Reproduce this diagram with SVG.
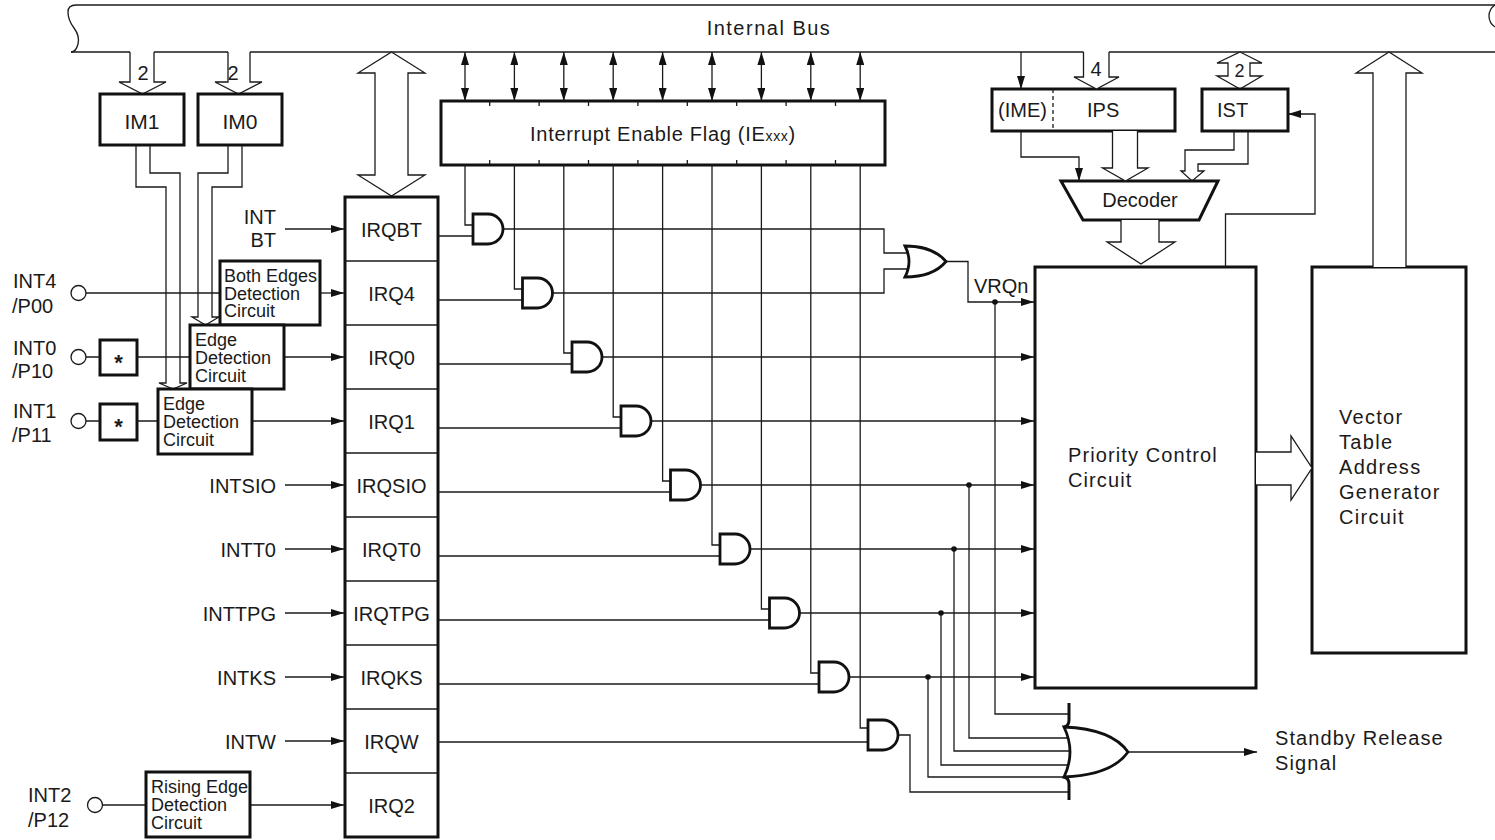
<svg xmlns="http://www.w3.org/2000/svg" width="1495" height="840" viewBox="0 0 1495 840">
<style>
.w{fill:none;stroke:#1a1a1a;stroke-width:1.3}
.b{fill:#fff;stroke:#111;stroke-width:3}
.bn{fill:none;stroke:#111;stroke-width:3}
.h{fill:#fff;stroke:#1a1a1a;stroke-width:1.3}
.hn{fill:none;stroke:#1a1a1a;stroke-width:1.3}
.g{fill:#fff;stroke:#111;stroke-width:2.8}
.t{font-family:"Liberation Sans",Arial,Helvetica,sans-serif;font-size:20px;fill:#1a1a1a}
.m{text-anchor:middle}
.e{text-anchor:end}
.s{font-size:18px}
.sp{letter-spacing:1.1px}
.d{fill:#111}
.ar{marker-end:url(#a)}
.ar2{marker-start:url(#a);marker-end:url(#a)}
</style>
<defs>
<marker id="a" viewBox="0 0 13 8" refX="13" refY="4" markerWidth="13" markerHeight="8" markerUnits="userSpaceOnUse" orient="auto-start-reverse"><path d="M0,0 L13,4 L0,8 Z" fill="#111"/></marker>
</defs>
<rect width="1495" height="840" fill="#fff"/>

<g id="internal-bus">
<path class="w" d="M76,5 H1495"/>
<path class="w" d="M76,5 Q68,5 68,12 Q68,20 74,28 Q80,36 78,44 Q76,52 71,52"/>
<path class="w" d="M1495,5 Q1489,9 1489,16 Q1489,23 1495,27"/>
<path class="w" d="M71,52 H130 M154,52 H228 M250,52 H1083.5 M1109,52 H1495"/>
<text class="t m" x="769" y="35" style="letter-spacing:1.5px">Internal Bus</text>
</g>

<g id="im1">
<polyline class="h" points="130,52 130,82 119,82 142.5,94 166,82 154,82 154,52"/>
<text class="t m" x="143" y="80">2</text>
<rect class="b" x="100" y="94" width="84" height="51"/>
<text class="t m" x="142" y="129" style="font-size:21px">IM1</text>
</g>
<g id="im0">
<polyline class="h" points="228,52 228,82 215,82 238.5,94 262,82 250,82 250,52"/>
<text class="t m" x="233" y="80">2</text>
<rect class="b" x="198" y="94" width="84" height="51"/>
<text class="t m" x="240" y="129" style="font-size:21px">IM0</text>
</g>

<g id="irq-register">
<polygon class="h" points="391.5,52 425,73 408,73 408,175 425,175 391.5,196 358,175 375,175 375,73 358,73"/>
<rect class="b" x="345" y="197" width="93" height="640"/>
<path class="w" d="M345,261 H438 M345,325 H438 M345,389 H438 M345,453 H438 M345,517 H438 M345,581 H438 M345,645 H438 M345,709 H438 M345,773 H438"/>
<text class="t m" x="391.5" y="237">IRQBT</text>
<text class="t m" x="391.5" y="301">IRQ4</text>
<text class="t m" x="391.5" y="365">IRQ0</text>
<text class="t m" x="391.5" y="429">IRQ1</text>
<text class="t m" x="391.5" y="493">IRQSIO</text>
<text class="t m" x="391.5" y="557">IRQT0</text>
<text class="t m" x="391.5" y="621">IRQTPG</text>
<text class="t m" x="391.5" y="685">IRQKS</text>
<text class="t m" x="391.5" y="749">IRQW</text>
<text class="t m" x="391.5" y="813">IRQ2</text>
</g>

<g id="ie-flag">
<rect class="b" x="441" y="101" width="444" height="64"/>
<path class="w" d="M489.7,101 v5 M539.1,101 v5 M588.5,101 v5 M637.9,101 v5 M687.3,101 v5 M736.7,101 v5 M786.1,101 v5 M835.5,101 v5 M489.7,165 v-5 M539.1,165 v-5 M588.5,165 v-5 M637.9,165 v-5 M687.3,165 v-5 M736.7,165 v-5 M786.1,165 v-5 M835.5,165 v-5"/>
<text class="t m" x="663" y="141" style="letter-spacing:0.7px">Interrupt Enable Flag (IE<tspan style="font-size:14px">xxx</tspan>)</text>
</g>

<g id="ips">
<rect class="b" x="992" y="89" width="183" height="42"/>
<path class="w" d="M1053,89 V131" stroke-dasharray="4,3"/>
<text class="t" x="998" y="117">(IME)</text>
<text class="t" x="1087" y="117">IPS</text>
<polyline class="h" points="1083.5,52 1083.5,77 1074,77 1096.5,89 1119,77 1109,77 1109,52"/>
<text class="t m" x="1096" y="76">4</text>
</g>

<g id="ist">
<polygon class="h" points="1240,52 1262,63 1250,63 1250,76 1262,76 1240,89 1217,76 1228,76 1228,63 1217,63"/>
<text class="t m" x="1239.5" y="77" style="font-size:18px">2</text>
<rect class="b" x="1202" y="89" width="86" height="42"/>
<text class="t" x="1217" y="117">IST</text>
</g>

<g id="decoder">
<polygon class="b" points="1061,181 1218,181 1199,220 1083,220"/>
<text class="t m" x="1140" y="207">Decoder</text>
</g>

<g id="priority-control">
<rect class="b" x="1035" y="267" width="221" height="421"/>
<text class="t sp" x="1068" y="462">Priority Control</text>
<text class="t sp" x="1068" y="487">Circuit</text>
</g>

<g id="vector-table">
<rect class="b" x="1312" y="267" width="154" height="386"/>
<text class="t" x="1339" y="424" style="letter-spacing:1.3px">Vector</text>
<text class="t" x="1339" y="449" style="letter-spacing:1.3px">Table</text>
<text class="t" x="1339" y="474" style="letter-spacing:1.3px">Address</text>
<text class="t" x="1339" y="499" style="letter-spacing:1.3px">Generator</text>
<text class="t" x="1339" y="524" style="letter-spacing:1.3px">Circuit</text>
</g>

<g id="int4-pin">
<circle class="w" cx="78.5" cy="293" r="7.5"/>
<text class="t" x="13" y="288">INT4</text>
<text class="t" x="12" y="313">/P00</text>
</g>
<g id="int0-pin">
<circle class="w" cx="78.5" cy="357" r="7.5"/>
<text class="t" x="13" y="355">INT0</text>
<text class="t" x="12" y="378">/P10</text>
<rect class="b" x="100" y="340" width="37" height="35"/>
<text class="t m" x="118.5" y="370" style="font-size:22px;font-weight:bold">*</text>
</g>
<g id="int1-pin">
<circle class="w" cx="78.5" cy="421" r="7.5"/>
<text class="t" x="13" y="418">INT1</text>
<text class="t" x="12" y="442">/P11</text>
<rect class="b" x="100" y="404" width="37" height="36"/>
<text class="t m" x="118.5" y="434" style="font-size:22px;font-weight:bold">*</text>
</g>
<g id="int2-pin">
<circle class="w" cx="95" cy="805" r="7.5"/>
<text class="t" x="28" y="802">INT2</text>
<text class="t" x="28" y="827">/P12</text>
</g>

<g id="connectors">
<!-- IM arrows to edge detectors -->
<path class="hn" d="M136,145 V187 H166 V383 H159 L173,389 L187,383 H180 V173 H150 V145"/>
<path class="hn" d="M228,145 V173 H198 V317 H192 L205.5,325 L219,317 H212 V187 H242 V145"/>
<!-- pin lines -->
<path class="w" d="M86,293 H220"/>
<path class="w" d="M86,357 H100 M137,357 H190"/>
<path class="w" d="M86,421 H100 M137,421 H158"/>
<path class="w" d="M102.5,805 H146"/>
<!-- inputs to IRQ column -->
<path class="w ar" d="M285,229 H344"/>
<path class="w ar" d="M320,293 H344"/>
<path class="w ar" d="M284,357 H344"/>
<path class="w ar" d="M252,421 H344"/>
<path class="w ar" d="M285,485 H344"/>
<path class="w ar" d="M285,549 H344"/>
<path class="w ar" d="M285,613 H344"/>
<path class="w ar" d="M285,677 H344"/>
<path class="w ar" d="M285,741 H344"/>
<path class="w ar" d="M250,805 H344"/>
<!-- bus <-> IE flag -->
<path class="w ar2" d="M465,52 V101"/>
<path class="w ar2" d="M514.4,52 V101"/>
<path class="w ar2" d="M563.8,52 V101"/>
<path class="w ar2" d="M613.2,52 V101"/>
<path class="w ar2" d="M662.6,52 V101"/>
<path class="w ar2" d="M712,52 V101"/>
<path class="w ar2" d="M761.4,52 V101"/>
<path class="w ar2" d="M810.8,52 V101"/>
<path class="w ar2" d="M860.2,52 V101"/>
<!-- IE flag to AND gates -->
<path class="w" d="M465,165 V225 H473 M514.4,165 V289 H522.5 M563.8,165 V353 H572 M613.2,165 V417 H621 M662.6,165 V481 H670.5 M712,165 V545 H720 M761.4,165 V609 H769.5 M810.8,165 V673 H819 M860.2,165 V728 H868"/>
<!-- IRQ to AND gates -->
<path class="w" d="M438,236 H473 M438,300 H522.5 M438,364 H572 M438,428 H621 M438,492 H670.5 M438,556 H720 M438,620 H769.5 M438,684 H819 M438,742 H868"/>
<!-- AND outputs -->
<path class="w" d="M503,229 H884 V253 H909"/>
<path class="w" d="M552.5,293 H884 V269 H909"/>
<path class="w ar" d="M602,357 H1034"/>
<path class="w ar" d="M651,421 H1034"/>
<path class="w ar" d="M700.5,485 H1034"/>
<path class="w ar" d="M750,549 H1034"/>
<path class="w ar" d="M799.5,613 H1034"/>
<path class="w ar" d="M849,677 H1034"/>
<path class="w" d="M898,735 H910 V792 H1069"/>
<!-- VRQn -->
<path class="w ar" d="M946,261.5 H968 V302 H1034"/>
<text class="t" x="974" y="293">VRQn</text>
<!-- taps to standby OR -->
<path class="w" d="M995,302 V714 H1069"/>
<path class="w" d="M969,485 V738 H1069"/>
<path class="w" d="M954,549 V751 H1069"/>
<path class="w" d="M941,613 V765 H1069"/>
<path class="w" d="M928,677 V777 H1069"/>
<circle class="d" cx="995" cy="302" r="2.8"/>
<circle class="d" cx="969" cy="485" r="2.8"/>
<circle class="d" cx="954" cy="549" r="2.8"/>
<circle class="d" cx="941" cy="613" r="2.8"/>
<circle class="d" cx="928" cy="677" r="2.8"/>
<!-- standby output -->
<path class="w ar" d="M1128,752 H1257"/>
<!-- IME / IPS / IST / decoder -->
<path class="w ar" d="M1021,52 V89"/>
<path class="w ar" d="M1021,131 V157 H1079 V181"/>
<polyline class="h" points="1112.5,131 1112.5,168 1102.5,168 1125.5,181 1148,168 1137.5,168 1137.5,131"/>
<path class="hn" d="M1234,131 V150 H1185 V171 H1181 L1192,181 L1204,171 H1198 V164 H1248 V131"/>
<polyline class="h" points="1121,220 1121,242 1107,242 1141,264 1175,242 1159,242 1159,220"/>
<path class="w ar" d="M1225.5,267 V214 H1315 V114 H1288"/>
<!-- PCC to vector, vector to bus -->
<polyline class="h" points="1256,452 1291,452 1291,436 1312,468 1291,500 1291,485 1256,485"/>
<polyline class="h" points="1373,267 1373,73 1356,73 1389,52 1422,73 1406,73 1406,267"/>
</g>

<g id="both-edges-detection">
<rect class="b" x="220" y="261" width="100" height="64"/>
<text class="t s" x="224" y="281.5">Both Edges</text>
<text class="t s" x="224" y="299.5">Detection</text>
<text class="t s" x="224" y="317">Circuit</text>
</g>
<g id="edge-detection-int0">
<rect class="b" x="190" y="325" width="94" height="64"/>
<text class="t s" x="195" y="345.5">Edge</text>
<text class="t s" x="195" y="363.5">Detection</text>
<text class="t s" x="195" y="381.5">Circuit</text>
</g>
<g id="edge-detection-int1">
<rect class="b" x="158" y="389" width="94" height="65"/>
<text class="t s" x="163" y="409.5">Edge</text>
<text class="t s" x="163" y="427.5">Detection</text>
<text class="t s" x="163" y="445.5">Circuit</text>
</g>
<g id="rising-edge-detection">
<rect class="b" x="146" y="772" width="104" height="65"/>
<text class="t s" x="151" y="792.5">Rising Edge</text>
<text class="t s" x="151" y="810.5">Detection</text>
<text class="t s" x="151" y="828.5">Circuit</text>
</g>

<g id="input-labels">
<text class="t e" x="276" y="224">INT</text>
<text class="t e" x="276" y="247">BT</text>
<text class="t e" x="276" y="493">INTSIO</text>
<text class="t e" x="276" y="557">INTT0</text>
<text class="t e" x="276" y="621">INTTPG</text>
<text class="t e" x="276" y="685">INTKS</text>
<text class="t e" x="276" y="749">INTW</text>
</g>

<g id="and-gates">
<path class="g" d="M473,214 H488 A15,15 0 0 1 488,244 H473 Z"/>
<path class="g" d="M522.5,278 H537.5 A15,15 0 0 1 537.5,308 H522.5 Z"/>
<path class="g" d="M572,342 H587 A15,15 0 0 1 587,372 H572 Z"/>
<path class="g" d="M621,406 H636 A15,15 0 0 1 636,436 H621 Z"/>
<path class="g" d="M670.5,470 H685.5 A15,15 0 0 1 685.5,500 H670.5 Z"/>
<path class="g" d="M720,534 H735 A15,15 0 0 1 735,564 H720 Z"/>
<path class="g" d="M769.5,598 H784.5 A15,15 0 0 1 784.5,628 H769.5 Z"/>
<path class="g" d="M819,662 H834 A15,15 0 0 1 834,692 H819 Z"/>
<path class="g" d="M868,720 H883 A15,15 0 0 1 883,750 H868 Z"/>
</g>

<g id="vrq-or-gate">
<path class="g" d="M905,246 Q913,261.5 905,277 Q933,277 946,261.5 Q933,246 905,246 Z"/>
</g>

<g id="standby-or-gate">
<path class="g" d="M1064,727 Q1076,752 1064,777 Q1112,775 1128,752 Q1112,729 1064,727 Z"/>
<path class="bn" d="M1069,703 V720 Q1069,726 1064,727 M1064,777 Q1069,778 1069,784 V800"/>
<text class="t sp" x="1275" y="745">Standby Release</text>
<text class="t sp" x="1275" y="770">Signal</text>
</g>
</svg>
